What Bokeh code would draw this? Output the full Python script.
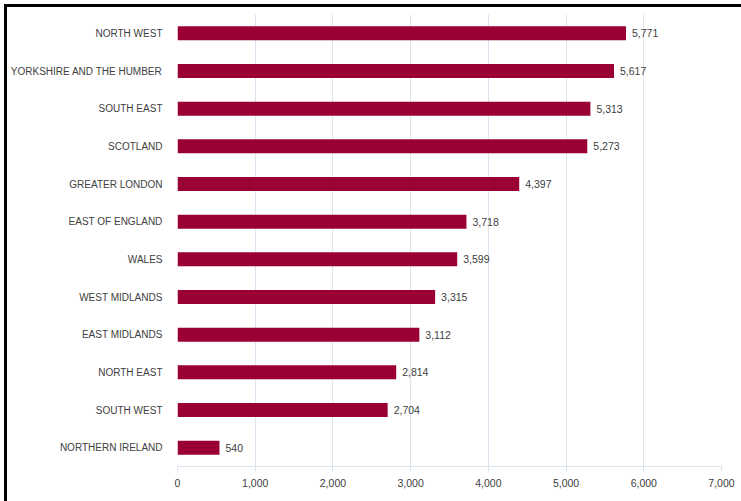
from bokeh.plotting import figure
from bokeh.models import ColumnDataSource, FactorRange, Range1d, NumeralTickFormatter, FixedTicker, Column
from bokeh.core.properties import value
from bokeh.embed import file_html
from bokeh.resources import INLINE

regions = ["NORTH WEST", "YORKSHIRE AND THE HUMBER", "SOUTH EAST", "SCOTLAND",
           "GREATER LONDON", "EAST OF ENGLAND", "WALES", "WEST MIDLANDS",
           "EAST MIDLANDS", "NORTH EAST", "SOUTH WEST", "NORTHERN IRELAND"]
counts = [5771, 5617, 5313, 5273, 4397, 3718, 3599, 3315, 3112, 2814, 2704, 540]
x_ticks = [0, 1000, 2000, 3000, 4000, 5000, 6000, 7000]

FONT = "Liberation Sans"
BAR = "#9B0034"
TXT = "#404040"
GRID = "#dbe3ef"

src = ColumnDataSource(dict(region=regions, count=counts,
                            label=[f"{c:,}" for c in counts]))

p = figure(width=734, height=494, output_backend="svg", toolbar_location=None,
           y_range=FactorRange(*regions[::-1], range_padding=0),
           x_range=Range1d(0, 7000),
           min_border_left=166, min_border_right=23, min_border_top=7, min_border_bottom=38,
           styles={"border-top": "3px solid black", "border-left": "3px solid black",
                   "box-sizing": "content-box"})
p.outline_line_color = None
p.background_fill_color = "white"

p.hbar(y="region", right="count", height=0.37, source=src, color=BAR, line_color=None)
p.text(x="count", y="region", text="label", source=src, x_offset=6,
       text_baseline="middle", text_align="left", text_color=TXT,
       text_font=value(FONT), text_font_size="10.5px")

p.xaxis.ticker = FixedTicker(ticks=x_ticks)
p.xaxis.formatter = NumeralTickFormatter(format="0,0")
p.xaxis.axis_line_color = GRID
p.xaxis.major_tick_line_color = GRID
p.xaxis.major_tick_out = 5
p.xaxis.major_tick_in = 0
p.xaxis.minor_tick_line_color = None
p.xaxis.major_label_text_font = FONT
p.xaxis.major_label_text_font_size = "10.5px"
p.xaxis.major_label_text_color = TXT
p.xaxis.major_label_standoff = 7

p.yaxis.axis_line_color = None
p.yaxis.major_tick_line_color = None
p.yaxis.minor_tick_line_color = None
p.yaxis.major_label_text_font = FONT
p.yaxis.major_label_text_font_size = "10px"
p.yaxis.major_label_text_color = TXT
p.yaxis.major_label_standoff = 9

p.xgrid.grid_line_color = GRID
p.ygrid.grid_line_color = None

layout = Column(p, styles={"padding-left": "4px", "padding-top": "4px"})

open("out.html", "w").write(file_html(layout, INLINE))
